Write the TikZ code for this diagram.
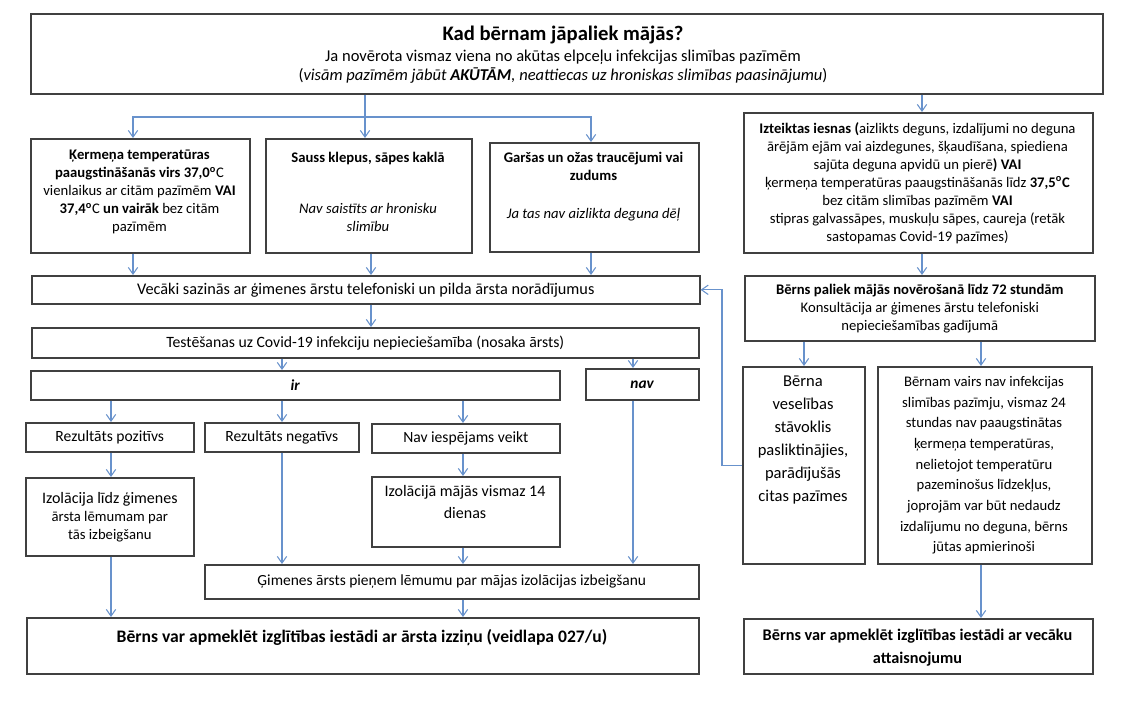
\documentclass[tikz,border=0pt]{standalone}
\usepackage{fontspec}
\setmainfont{Carlito}
\usetikzlibrary{arrows.meta}
\definecolor{conn}{HTML}{6892CC}
\definecolor{bord}{HTML}{404040}
\newcommand\fs{\fontsize{11}{13.5}\selectfont}
\tikzset{
 box/.style={draw=bord, line width=1.2pt, inner sep=0pt, align=center, font=\fs},
 txt/.style={inner sep=0pt, align=center, font=\fs, anchor=north, execute at begin node=\strut},
 one/.style={inner sep=0pt, font=\fs, anchor=base},
 arr/.style={draw=conn, line width=0.8pt, -{Straight Barb[length=5pt,width=7pt]}},
}
\newcommand\mkbox[6]{\node[box,anchor=north west,minimum width={(#4-#2)*0.75pt},minimum height={(#5-#3)*0.75pt}] (#1) at (#2,#3) {#6};}
\begin{document}
\begin{tikzpicture}[x=0.75pt,y=-0.75pt]
\useasboundingbox (0,0) rectangle (1123,708);
\fill[white] (0,0) rectangle (1123,708);

% columns
\coordinate (c111) at (111,0);
\coordinate (c133) at (133,0);
\coordinate (c282) at (282,0);
\coordinate (c365) at (365,0);
\coordinate (c371) at (371,0);
\coordinate (c463) at (463,0);
\coordinate (c591) at (591,0);
\coordinate (c633) at (633,0);
\coordinate (c722) at (722,0);
\coordinate (c804) at (804,0);
\coordinate (c922) at (922,0);
\coordinate (c981) at (981,0);

% top box
\mkbox{top}{30}{13}{1102}{93}{}
\node[one, font=\fontsize{15.5}{18}\selectfont\bfseries] (title) at (563,40) {Kad bērnam jāpaliek mājās?};
\node[one, font=\fontsize{12.4}{14}\selectfont] (sub1) at (563,61.5) {Ja novērota vismaz viena no akūtas elpceļu infekcijas slimības pazīmēm};
\node[one, font=\fontsize{12.4}{14}\selectfont] (sub2) at (563,80.5) {(\textit{visām pazīmēm jābūt \textbf{AKŪTĀM}, neattiecas uz hroniskas slimības paasinājumu})};

% first row
\mkbox{b1}{30}{138}{249}{252}{}
\node[txt] (b1t) at (139.5,150) {\textbf{Ķermeņa temperatūras}\\ \textbf{paaugstināšanās virs 37,0\textsuperscript{o}}C\\ vienlaikus ar citām pazīmēm \textbf{VAI}\\ \textbf{37,4\textsuperscript{o}}C \textbf{un vairāk} bez citām\\ pazīmēm};
\mkbox{b2}{265}{138}{471}{252}{}
\node[txt] (b2t) at (368,150) {\textbf{Sauss klepus, sāpes kaklā}};
\node[txt] (b2i) at (368,203) {\textit{Nav saistīts ar hronisku}\\ \textit{slimību}};
\mkbox{b3}{489}{142}{698}{251}{}
\node[txt] (b3t) at (593.5,152) {\textbf{Garšas un ožas traucējumi vai}\\ \textbf{zudums}};
\node[txt] (b3i) at (593.5,206) {\textit{Ja tas nav aizlikta deguna dēļ}};
\mkbox{rb}{743}{112}{1092}{252}{}
\node[txt, font=\fontsize{11}{13.5}\selectfont] (rbt) at (917.5,122) {\textbf{Izteiktas iesnas (}aizlikts deguns, izdalījumi no deguna\\ ārējām ejām vai aizdegunes, šķaudīšana, spiediena\\ sajūta deguna apvidū un pierē\textbf{) VAI}\\ ķermeņa temperatūras paaugstināšanās līdz \textbf{37,5\textsuperscript{o}C}\\ bez citām slimības pazīmēm \textbf{VAI}\\ stipras galvassāpes, muskuļu sāpes, caureja (retāk\\ sastopamas Covid-19 pazīmes)};

% left flow
\mkbox{vec}{31}{275}{699}{303}{\fontsize{12.2}{14}\selectfont Vecāki sazinās ar ģimenes ārstu telefoniski un pilda ārsta norādījumus}
\mkbox{test}{31}{327}{698}{357}{\fontsize{11.8}{14}\selectfont Testēšanas uz Covid-19 infekciju nepieciešamība (nosaka ārsts)}
\mkbox{ir}{30}{370}{559}{399}{\fontsize{11.5}{14}\selectfont\textbf{\textit{ir}}}
\mkbox{nav}{585}{368}{698}{399}{\fontsize{11.5}{14}\selectfont\textbf{\textit{nav}}}
\mkbox{pos}{25}{422}{193}{451}{\fontsize{11.7}{14}\selectfont Rezultāts pozitīvs}
\mkbox{neg}{204}{422}{358}{451}{\fontsize{11.7}{14}\selectfont Rezultāts negatīvs}
\mkbox{iesp}{371}{423}{559}{452}{\fontsize{11.7}{14}\selectfont Nav iespējams veikt}
\mkbox{izo}{25}{477}{193}{555}{\fontsize{12}{16.9}\selectfont Izolācija līdz ģimenes\\ ārsta lēmumam par\\ tās izbeigšanu}
\mkbox{izo2}{371}{476}{559}{546}{}
\node[txt, font=\fontsize{12}{16.9}\selectfont] (izo2t) at (465,485) {Izolācijā mājās vismaz 14\\ dienas};
\mkbox{gim}{204}{564}{698}{598}{\fontsize{11.6}{14}\selectfont Ģimenes ārsts pieņem lēmumu par mājas izolācijas izbeigšanu}
\mkbox{fin}{26}{617}{698}{673}{}
\node[one, font=\fontsize{13.2}{15}\selectfont\bfseries] (fint) at (362,642) {Bērns var apmeklēt izglītības iestādi ar ārsta izziņu (veidlapa 027/u)};

% right flow
\mkbox{pal}{744}{275}{1094}{340}{\fontsize{11}{13.5}\selectfont\textbf{Bērns paliek mājās novērošanā līdz 72 stundām}\\ Konsultācija ar ģimenes ārstu telefoniski\\ nepieciešamības gadījumā}
\mkbox{berna}{742}{366}{864}{563}{}
\node[txt, font=\fontsize{12.4}{17.25}\selectfont] (bernat) at (803,376) {Bērna\\ veselības\\ stāvoklis\\ pasliktinājies,\\ parādījušās\\ citas pazīmes};
\mkbox{bernam}{877}{366}{1091}{563}{}
\node[txt, font=\fontsize{11}{15.5}\selectfont] (bernamt) at (984,376) {Bērnam vairs nav infekcijas\\ slimības pazīmju, vismaz 24\\ stundas nav paaugstinātas\\ ķermeņa temperatūras,\\ nelietojot temperatūru\\ pazeminošus līdzekļus,\\ joprojām var būt nedaudz\\ izdalījumu no deguna, bērns\\ jūtas apmierinoši};
\mkbox{fin2}{743}{618}{1092}{673}{}
\node[txt, font=\fontsize{12.2}{17.25}\selectfont\bfseries] (fin2t) at (917.5,629) {Bērns var apmeklēt izglītības iestādi ar vecāku\\ attaisnojumu};

% connectors
\coordinate (split) at (365,117);
\draw[arr] (top.south -| c365) -- (b2.north -| c365);
\draw[arr] (split) -| (b1.north -| c133);
\draw[arr] (split) -| (b3.north -| c591);
\draw[arr] (top.south -| c922) -- (rb.north -| c922);
\draw[arr] (b1.south -| c133) -- (vec.north -| c133);
\draw[arr] (b2.south -| c371) -- (vec.north -| c371);
\draw[arr] (b3.south -| c591) -- (vec.north -| c591);
\draw[arr] (rb.south -| c922) -- (pal.north -| c922);
\draw[arr] (vec.south -| c371) -- (test.north -| c371);
\draw[arr] (test.south -| c282) -- (ir.north -| c282);
\draw[arr] (test.south -| c633) -- (nav.north -| c633);
\draw[arr] (ir.south -| c111) -- (pos.north -| c111);
\draw[arr] (ir.south -| c282) -- (neg.north -| c282);
\draw[arr] (ir.south -| c463) -- (iesp.north -| c463);
\draw[arr] (pos.south -| c111) -- (izo.north -| c111);
\draw[arr] (iesp.south -| c463) -- (izo2.north -| c463);
\draw[arr] (neg.south -| c282) -- (gim.north -| c282);
\draw[arr] (izo2.south -| c463) -- (gim.north -| c463);
\draw[arr] (nav.south -| c633) -- (gim.north -| c633);
\draw[arr] (gim.south -| c463) -- (fin.north -| c463);
\draw[arr] (izo.south -| c111) -- (fin.north -| c111);
\draw[arr] (pal.south -| c804) -- (berna.north -| c804);
\draw[arr] (pal.south -| c981) -- (bernam.north -| c981);
\draw[arr] (bernam.south -| c981) -- (fin2.north -| c981);
\draw[arr] (berna.west) -- (c722 |- berna.west) -- (c722 |- vec.east) -- (vec.east);
\end{tikzpicture}
\end{document}
